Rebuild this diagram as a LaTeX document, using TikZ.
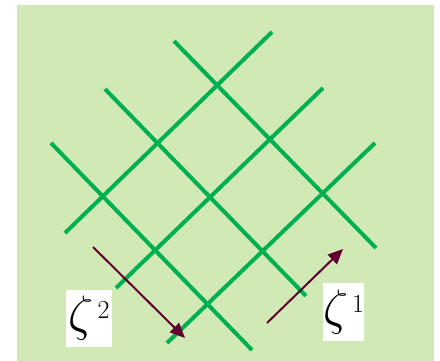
\documentclass[tikz,border=0pt]{standalone}
\usepackage{graphicx}
\usetikzlibrary{arrows.meta}
\definecolor{bgg}{RGB}{209,234,181}
\definecolor{lineg}{RGB}{0,176,80}
\definecolor{arr}{RGB}{96,0,48}
\newcommand{\zetalbl}[1]{\scalebox{2}{$\zeta$}\kern4pt\raisebox{12pt}{\fontsize{26}{28}\selectfont #1}}
\begin{document}
\begin{tikzpicture}[x=1pt,y=-1pt,
  gridline/.style={draw=lineg,line width=4pt},
  dirarrow/.style={draw=arr,line width=2pt,-{Triangle[length=15pt,width=13pt]}},
  lbl/.style={fill=white,inner sep=0pt,font=\fontsize{24}{26}\selectfont}]
\useasboundingbox (0,0) rectangle (440,361);
\fill[bgg] (17,5) rectangle (434,361);
% NE lines
\coordinate (a1) at (65,233);  \coordinate (b1) at (272,32);
\coordinate (a2) at (116,288); \coordinate (b2) at (323,88);
\coordinate (a3) at (167,343); \coordinate (b3) at (375,143);
% SE lines
\coordinate (c1) at (174,41);  \coordinate (d1) at (376,248);
\coordinate (c2) at (105,89);  \coordinate (d2) at (306,296);
\coordinate (c3) at (51,143);  \coordinate (d3) at (252,350);
\foreach \i in {1,2,3}{
  \draw[gridline] (a\i) -- (b\i);
  \draw[gridline] (c\i) -- (d\i);
}
\coordinate (s2) at (93,247);  \coordinate (t2) at (185,338);
\coordinate (s1) at (267,323); \coordinate (t1) at (343,249);
\draw[dirarrow] (s2) -- (t2);
\draw[dirarrow] (s1) -- (t1);
\node[lbl,minimum width=46pt,minimum height=57pt] (z2) at (89,318.5) {\zetalbl{2}};
\node[lbl,minimum width=41pt,minimum height=58pt] (z1) at (343.5,312) {\zetalbl{1}};
\end{tikzpicture}
\end{document}
